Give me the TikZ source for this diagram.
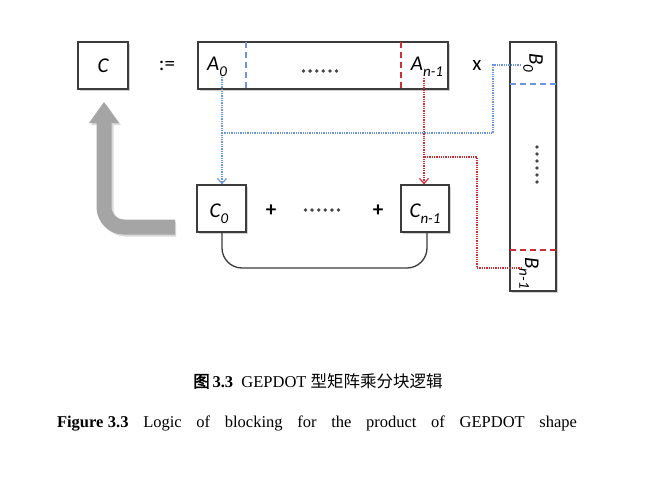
\documentclass[tikz,border=0pt]{standalone}
\usepackage{fontspec}
\setmainfont{Liberation Serif}
\newfontfamily\carl{Carlito}
\newfontfamily\cjk[AutoFakeBold=2.5]{Noto Sans CJK SC}
\usetikzlibrary{arrows.meta}
\definecolor{bl}{RGB}{110,150,215}
\definecolor{rd}{RGB}{205,45,55}
\definecolor{bx}{RGB}{60,60,60}
\definecolor{gy}{RGB}{165,165,165}
\tikzset{
  blk/.style={draw=bx, line width=1.3pt, fill=white, inner sep=0pt},
  lbl/.style={font=\carl\itshape\fontsize{21}{21}\selectfont, inner sep=0pt},
  op/.style={font=\carl\fontsize{21}{21}\selectfont, inner sep=0pt},
  opb/.style={font=\carl\bfseries\fontsize{21}{21}\selectfont, inner sep=0pt},
  bdot/.style={draw=bl, densely dotted, line width=1.3pt},
  rdot/.style={draw=rd, densely dotted, line width=1.3pt},
  bdash/.style={draw=bl, dashed, dash pattern=on 6pt off 4pt, line width=1.4pt},
  rdash/.style={draw=rd, dashed, dash pattern=on 6pt off 4pt, line width=1.4pt},
  tip/.style={-{Straight Barb[length=5pt,width=9pt,line width=1.2pt]}},
  shadowbox/.style={fill=black!18, draw=none},
  dotc/.style={fill=black!72}
}
\newcommand{\sbs}[1]{\raisebox{-0.28em}{\fontsize{15}{15}\selectfont #1}}
\begin{document}
\begin{tikzpicture}[x=1pt,y=-1pt]
\useasboundingbox (0,0) rectangle (662,490);
% shadows
\fill[shadowbox] (80,44) rectangle (130,91);
\fill[shadowbox] (200,44) rectangle (450,91);
\fill[shadowbox] (512,44) rectangle (558,293);
\fill[shadowbox] (199,187) rectangle (248,234);
\fill[shadowbox] (403,187) rectangle (451,234);
% boxes
\node[blk, minimum width=50pt, minimum height=47pt] (Cb) at (103,65.5) {};
\node[blk, minimum width=250pt, minimum height=47pt] (Ab) at (323,65.5) {};
\node[blk, minimum width=46pt, minimum height=249pt] (Bb) at (533,166.5) {};
\node[blk, minimum width=49pt, minimum height=47pt] (C0) at (221.5,208.5) {};
\node[blk, minimum width=48pt, minimum height=47pt] (Cn) at (425,208.5) {};
% separators
\draw[bdash] (246,42) -- (246,89);
\draw[rdash] (401,42) -- (401,89);
\draw[bdash] (510,84) -- (556,84);
\draw[rdash] (510,250) -- (556,250);
% labels
\node[lbl] (Cl) at (103,66) {C};
\node[lbl] (A0) at (217,67) {A\sbs{0}};
\node[lbl] (An) at (427,67) {A\sbs{n-1}};
\node[lbl, rotate=-90] (B0) at (533,63) {B\sbs{0}};
\node[lbl, rotate=-90] (Bn) at (529,273) {B\sbs{n-1}};
\node[lbl] (C0l) at (219,214) {C\sbs{0}};
\node[lbl] (Cnl) at (425,214) {C\sbs{n-1}};
\node[op] (def) at (167,66) {:=};
\node[op] (times) at (477,65) {x};
\node[opb] (p1) at (271,211) {+};
\node[opb] (p2) at (378,211) {+};
% dot runs
\foreach \i in {0,...,5} {
  \fill[dotc] (303.5+6.6*\i,71) circle (1.9pt);
  \fill[dotc] (305.5+6.6*\i,210) circle (1.9pt);
  \fill[dotc] (537,147+7*\i) circle (1.9pt);
}
% coordinates
\coordinate (a0s) at (222,77);
\coordinate (ans) at (424,78);
\coordinate (b0s) at (521,65);
\coordinate (bns) at (522,268);
% blue connectors
\draw[bdot, tip] (a0s) -- (C0.north -| a0s);
\draw[bdot] (b0s) -- (493,65) -- (493,133) -- (222,133);
% red connectors
\draw[rdot, tip] (ans) -- (Cn.north -| ans);
\draw[rdot] (bns) -- (477,268) -- (477,157) -- (424,157);
% sum curve
\draw[bx, line width=1.3pt, rounded corners=20pt] (C0.south -| 222,0) -- (222,268) -- (427,268) -- (Cn.south -| 427,0);
% grey arrow
\coordinate (gs) at (175,227);
\coordinate (gt) at (104,102);
\draw[black!15, line width=15pt, rounded corners=20pt] (176,229) -- (106,229) -- (106,123);
\fill[black!15] (91,125) -- (121,125) -- (106,104) -- cycle;
\draw[gy, line width=15pt, rounded corners=20pt] (gs) -- (104,227) -- (104,122);
\fill[gy] (89,123) -- (119,123) -- (gt) -- cycle;
% captions
\node[font=\fontsize{16.5}{18}\selectfont, inner sep=0pt] (cap1) at (318,381) {{\cjk\bfseries 图}\,\textbf{3.3}\ \ GEPDOT {\cjk 型矩阵乘分块逻辑}};
\node[font=\fontsize{16.5}{18}\selectfont, inner sep=0pt] (cap2) at (317,424) {\makebox[520pt][s]{\textbf{Figure\kern4.5pt3.3} Logic of blocking for the product of GEPDOT shape}};
\end{tikzpicture}
\end{document}
